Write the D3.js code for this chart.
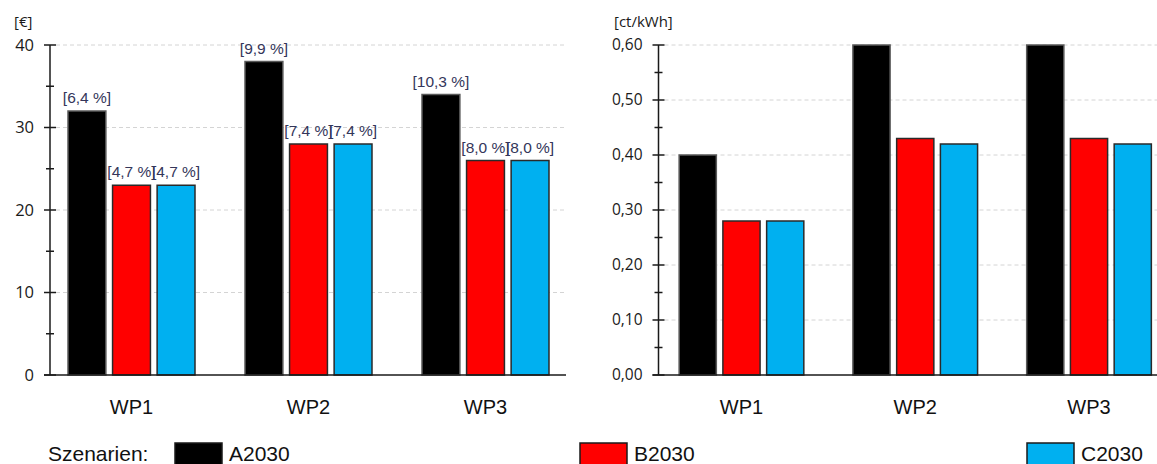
<!DOCTYPE html>
<html>
<head>
<meta charset="utf-8">
<script src="https://cdn.jsdelivr.net/npm/d3@7/dist/d3.min.js"></script>
<style>
  html, body { margin: 0; padding: 0; background: #fff; }
  svg { display: block; }
  .lbl { font-family: "Liberation Sans", Arial, sans-serif; }
  .tick-lbl { font-family: "Open Sans", "Noto Sans", sans-serif; }
</style>
</head>
<body>
<svg id="chart" width="1157" height="464"></svg>
<script>
// Work packages and scenarios
const categories = ["WP1", "WP2", "WP3"];
const scenarios = ["A2030", "B2030", "C2030"];
const scenarioColors = ["#000000", "#ff0000", "#00b0f0"];

// Left panel: costs in euro, with percentage shares shown above the bars
const costA = [32, 38, 34];
const costB = [23, 28, 26];
const costC = [23, 28, 26];
const shareA = [6.4, 9.9, 10.3];
const shareB = [4.7, 7.4, 8.0];
const shareC = [4.7, 7.4, 8.0];

// Right panel: specific costs in ct/kWh
const specA = [0.40, 0.60, 0.60];
const specB = [0.28, 0.43, 0.43];
const specC = [0.28, 0.42, 0.42];

const leftTicks = [0, 10, 20, 30, 40];
const rightTicks = [0, 0.1, 0.2, 0.3, 0.4, 0.5, 0.6];

const de = d3.formatLocale({ decimal: ",", thousands: ".", grouping: [3], currency: ["", " €"] });
const fmt1 = de.format(".1f");
const fmt2 = de.format(".2f");

const svg = d3.select("#chart");

function panel(opts) {
  const g = svg.append("g");
  const y = d3.scaleLinear().domain(opts.domain).range([375, 45]);
  const x0 = d3.scaleBand().domain(categories).range(opts.xRange).paddingInner(0.2825).paddingOuter(0.14125);
  const x1 = d3.scaleBand().domain(scenarios).range([0, x0.bandwidth()]).paddingInner(0.15).paddingOuter(0);

  // dashed gridlines on the major ticks
  g.append("g").selectAll("line").data(opts.ticks.filter(t => t > 0)).join("line")
    .attr("x1", opts.axisX + 6).attr("x2", opts.gridEnd)
    .attr("y1", d => y(d)).attr("y2", d => y(d))
    .attr("stroke", "#d4d4d4").attr("stroke-width", 1).attr("stroke-dasharray", "4,3");

  // bars
  const rows = categories.map((c, i) => ({ cat: c, vals: opts.series.map((s, j) => ({ key: scenarios[j], v: s[i], share: opts.shares ? opts.shares[j][i] : null, color: scenarioColors[j] })) }));
  const grp = g.append("g").selectAll("g").data(rows).join("g")
    .attr("transform", d => `translate(${x0(d.cat)},0)`);
  grp.selectAll("rect").data(d => d.vals).join("rect")
    .attr("x", d => x1(d.key)).attr("width", x1.bandwidth())
    .attr("y", d => y(Math.min(d.v, opts.domain[1]))).attr("height", d => y(0) - y(Math.min(d.v, opts.domain[1])))
    .attr("fill", d => d.color)
    .attr("stroke", d => d.key === "A2030" ? "#5a5a5a" : "#2a2a2a").attr("stroke-width", 1.5);

  if (opts.shares) {
    grp.selectAll("text").data(d => d.vals).join("text")
      .attr("class", "lbl")
      .attr("x", d => x1(d.key) + x1.bandwidth() / 2)
      .attr("y", d => y(d.v) - 8)
      .attr("text-anchor", "middle").attr("font-size", 15.5).attr("fill", "#34365a")
      .text(d => `[${fmt1(d.share)} %]`);
  }

  // y axis line
  g.append("line").attr("x1", opts.axisX).attr("x2", opts.axisX).attr("y1", y(opts.domain[1])).attr("y2", y(0))
    .attr("stroke", "#1a1a1a").attr("stroke-width", 1.5);
  // major ticks
  g.append("g").selectAll("line").data(opts.ticks).join("line")
    .attr("x1", opts.axisX - 6).attr("x2", opts.axisX + 6)
    .attr("y1", d => y(d)).attr("y2", d => y(d))
    .attr("stroke", "#1a1a1a").attr("stroke-width", 1.5);
  // minor ticks halfway between
  g.append("g").selectAll("line").data(opts.ticks.slice(1).map((t, i) => (t + opts.ticks[i]) / 2)).join("line")
    .attr("x1", opts.axisX - 4).attr("x2", opts.axisX + 4)
    .attr("y1", d => y(d)).attr("y2", d => y(d))
    .attr("stroke", "#1a1a1a").attr("stroke-width", 1.5);
  // tick labels
  g.append("g").selectAll("text").data(opts.ticks).join("text")
    .attr("class", "tick-lbl")
    .attr("x", opts.axisX - 16).attr("y", d => y(d)).attr("dy", "0.35em")
    .attr("text-anchor", "end").attr("font-size", opts.tickSize).attr("fill", "#1a1a1a")
    .text(opts.tickFmt);
  // unit label
  g.append("text").attr("class", "tick-lbl")
    .attr("x", opts.unitX).attr("y", 27).attr("font-size", 15).attr("fill", "#1a1a1a")
    .text(opts.unit);

  // x axis baseline
  g.append("line").attr("x1", opts.axisX - 6).attr("x2", opts.gridEnd).attr("y1", y(0)).attr("y2", y(0))
    .attr("stroke", "#1a1a1a").attr("stroke-width", 1.5);
  // category labels
  g.append("g").selectAll("text").data(categories).join("text")
    .attr("class", "lbl")
    .attr("x", d => x0(d) + x0.bandwidth() / 2).attr("y", 414)
    .attr("text-anchor", "middle").attr("font-size", 20).attr("fill", "#111")
    .text(d => d);
}

panel({
  domain: [0, 40], ticks: leftTicks, tickFmt: d => d3.format("d")(d), tickSize: 16.5,
  xRange: [43, 574], axisX: 50, gridEnd: 566,
  series: [costA, costB, costC], shares: [shareA, shareB, shareC],
  unit: "[€]", unitX: 14
});

panel({
  domain: [0, 0.6], ticks: rightTicks, tickFmt: d => fmt2(d), tickSize: 15.5,
  xRange: [654.6, 1175.9], axisX: 658.5, gridEnd: 1157,
  series: [specA, specB, specC], shares: null,
  unit: "[ct/kWh]", unitX: 614
});

// legend
const legend = svg.append("g");
legend.append("text").attr("class", "lbl").attr("x", 48).attr("y", 461)
  .attr("font-size", 21).attr("fill", "#111").text("Szenarien:");
const legendX = [175, 580, 1027];
const items = legend.selectAll("g.item").data(scenarios).join("g").attr("class", "item")
  .attr("transform", (d, i) => `translate(${legendX[i]},443)`);
items.append("rect").attr("width", 47).attr("height", 24)
  .attr("fill", (d, i) => scenarioColors[i]).attr("stroke", "#1a1a1a").attr("stroke-width", 1.5);
items.append("text").attr("class", "lbl").attr("x", 54).attr("y", 18)
  .attr("font-size", 21).attr("fill", "#111").text(d => d);
</script>
</body>
</html>
